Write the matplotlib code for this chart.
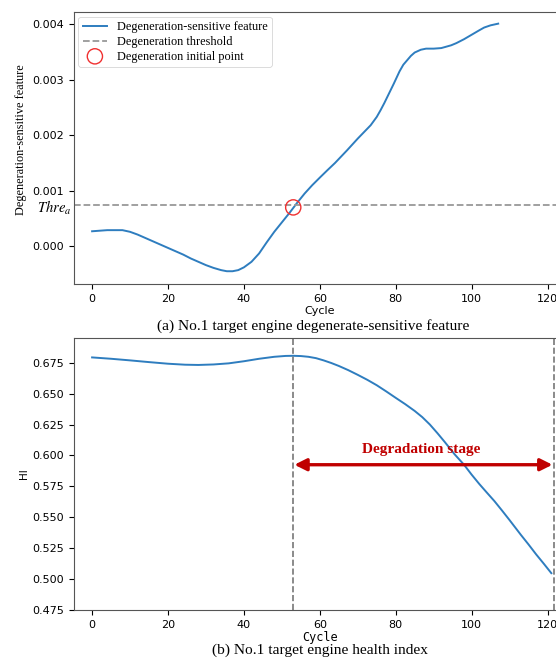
import matplotlib
matplotlib.use("Agg")
import matplotlib.pyplot as plt
import matplotlib.transforms as mtransforms

# ---- data ----
feat_cycle = [0, 2, 4, 6, 8, 10, 12, 14, 16, 18, 20, 22, 24, 26, 28, 30, 32, 34, 35.5, 37, 38.5,
              40, 42, 44, 46, 48, 50, 52, 54, 56, 58, 60.2, 62, 64, 67.2, 70, 73.4, 75, 76, 77, 78,
              79.5, 81, 82, 83, 84, 85, 86.6, 88, 90, 92, 94.6, 96, 98, 100, 102, 103.3, 105, 107]
feat_value = [0.00027, 0.00028, 0.00029, 0.00029, 0.00029, 0.00026, 0.00021, 0.00015, 0.00009,
              0.00003, -0.00003, -0.00009, -0.00015, -0.00022, -0.00028, -0.00034, -0.00039,
              -0.00043, -0.00045, -0.00045, -0.00043, -0.00038, -0.00028, -0.00013, 0.00007,
              0.00026, 0.00043, 0.00060, 0.00078, 0.00095, 0.00110, 0.00125, 0.00137, 0.00150,
              0.00173, 0.00194, 0.00218, 0.00233, 0.00245, 0.00258, 0.00272, 0.00293, 0.00315,
              0.00327, 0.00335, 0.00343, 0.00349, 0.00354, 0.00356, 0.00356, 0.00357, 0.00362,
              0.00366, 0.00373, 0.00381, 0.00389, 0.00394, 0.00398, 0.00401]

hi_cycle = [0, 5, 10, 15, 20, 24.5, 28, 32, 36, 40, 44, 48, 51, 53, 55, 57, 59, 61, 63, 65, 67.5,
            70, 72.5, 75, 77.5, 80, 82.5, 85, 87, 89, 91, 93, 95.5, 98, 100, 102, 104, 106, 108,
            110, 113, 115, 117, 119, 121]
hi_value = [0.6793, 0.6782, 0.6769, 0.6755, 0.6742, 0.6734, 0.6732, 0.6736, 0.6745, 0.6762,
            0.6782, 0.6798, 0.6805, 0.6806, 0.6804, 0.6798, 0.6787, 0.6769, 0.6748, 0.6724,
            0.6690, 0.6652, 0.6612, 0.6568, 0.6518, 0.6466, 0.6415, 0.6360, 0.6310, 0.6250,
            0.6180, 0.6106, 0.6010, 0.5925, 0.5845, 0.5770, 0.5700, 0.5631, 0.5555, 0.5477,
            0.5357, 0.5280, 0.5200, 0.5125, 0.5048]

threshold = 0.00074
dip_cycle = 53
dip_value = 0.00070
stage_start = 53
stage_end = 121.6
arrow_level = 0.5925

feat_yticks = [0.000, 0.001, 0.002, 0.003, 0.004]
feat_yticklabels = ["0.000", "0.001", "0.002", "0.003", "0.004"]
hi_yticks = [0.475, 0.500, 0.525, 0.550, 0.575, 0.600, 0.625, 0.650, 0.675]
hi_yticklabels = ["0.475", "0.500", "0.525", "0.550", "0.575", "0.600", "0.625", "0.650", "0.675"]
xticks = [0, 20, 40, 60, 80, 100, 120]

serif = ["Liberation Serif", "DejaVu Serif"]
plt.rcParams["mathtext.fontset"] = "stix"

W, H = 556, 660
fig = plt.figure(figsize=(W / 100, H / 100), dpi=100)

left = 73.5 / W
width = 493 / W
ax1 = fig.add_axes([left, 1 - 284 / H, width, 272 / H])
ax2 = fig.add_axes([left, 1 - 610 / H, width, 272 / H])

line_color = "#2e7dbf"
tick_fs = 8
xlim = (-4.9, 125)

# ---- top panel ----
ax1.plot(feat_cycle, feat_value, color=line_color, lw=1.4, label="Degeneration-sensitive feature")
ax1.axhline(threshold, color="#999999", ls="--", lw=1.3, label="Degeneration threshold")
ax1.scatter([dip_cycle], [dip_value], s=120, facecolors="none", edgecolors="#f03030", lw=1.0,
            label="Degeneration initial point", zorder=3)
ax1.set_xlim(*xlim)
ax1.set_ylim(-0.00068, 0.00422)
ax1.set_xticks(xticks)
ax1.set_yticks(feat_yticks)
ax1.set_yticklabels(feat_yticklabels)
ax1.tick_params(labelsize=tick_fs, length=3.5)
ax1.set_xlabel("Cycle", fontsize=tick_fs, labelpad=2)
ax1.set_ylabel("Degeneration-sensitive feature", fontsize=8.8, family=serif)
ax1.yaxis.set_label_coords(-0.095, 0.53)
leg = ax1.legend(loc="upper left", prop={"family": serif, "size": 8.8}, frameon=True,
                 borderpad=0.35, handlelength=2.0, handletextpad=0.8, labelspacing=0.22,
                 borderaxespad=0.4)
leg.get_frame().set_linewidth(0.6)
trans = mtransforms.blended_transform_factory(ax1.transAxes, ax1.transData)
ax1.text(-0.005, threshold - 0.00005, r"$\mathit{Thre}_a$", transform=trans, ha="right",
         va="center", fontsize=10.5)
for s in ax1.spines.values():
    s.set_color("#555555")

fig.text(313 / W, 1 - 326 / H, "(a) No.1 target engine degenerate-sensitive feature",
         family=serif, fontsize=11.1, ha="center", va="center")

# ---- bottom panel ----
ax2.plot(hi_cycle, hi_value, color=line_color, lw=1.4)
ax2.axvline(stage_start, color="#777777", ls="--", lw=1.2)
ax2.axvline(stage_end, color="#777777", ls="--", lw=1.2)
ax2.annotate("", xy=(stage_end - 0.3, arrow_level), xytext=(stage_start + 0.3, arrow_level),
             arrowprops=dict(arrowstyle="<|-|>", color="#c00000", lw=2.4, mutation_scale=18,
                             shrinkA=0, shrinkB=0))
ax2.text(86.6, 0.6045, "Degradation stage", color="#c00000", fontweight="bold", family=serif,
         fontsize=11, ha="center", va="center")
ax2.set_xlim(*xlim)
ax2.set_ylim(0.475, 0.695)
ax2.set_xticks(xticks)
ax2.set_yticks(hi_yticks)
ax2.set_yticklabels(hi_yticklabels)
ax2.tick_params(labelsize=tick_fs, length=3.5)
ax2.set_xlabel("Cycle", fontsize=8.5, family="DejaVu Sans Mono", labelpad=1)
ax2.set_ylabel("HI", fontsize=7.5)
ax2.yaxis.set_label_coords(-0.09, 0.5)
for s in ax2.spines.values():
    s.set_color("#555555")

fig.text(320 / W, 1 - 650 / H, "(b) No.1 target engine health index", family=serif,
         fontsize=11.1, ha="center", va="center")

fig.savefig("out.png", dpi=100)
